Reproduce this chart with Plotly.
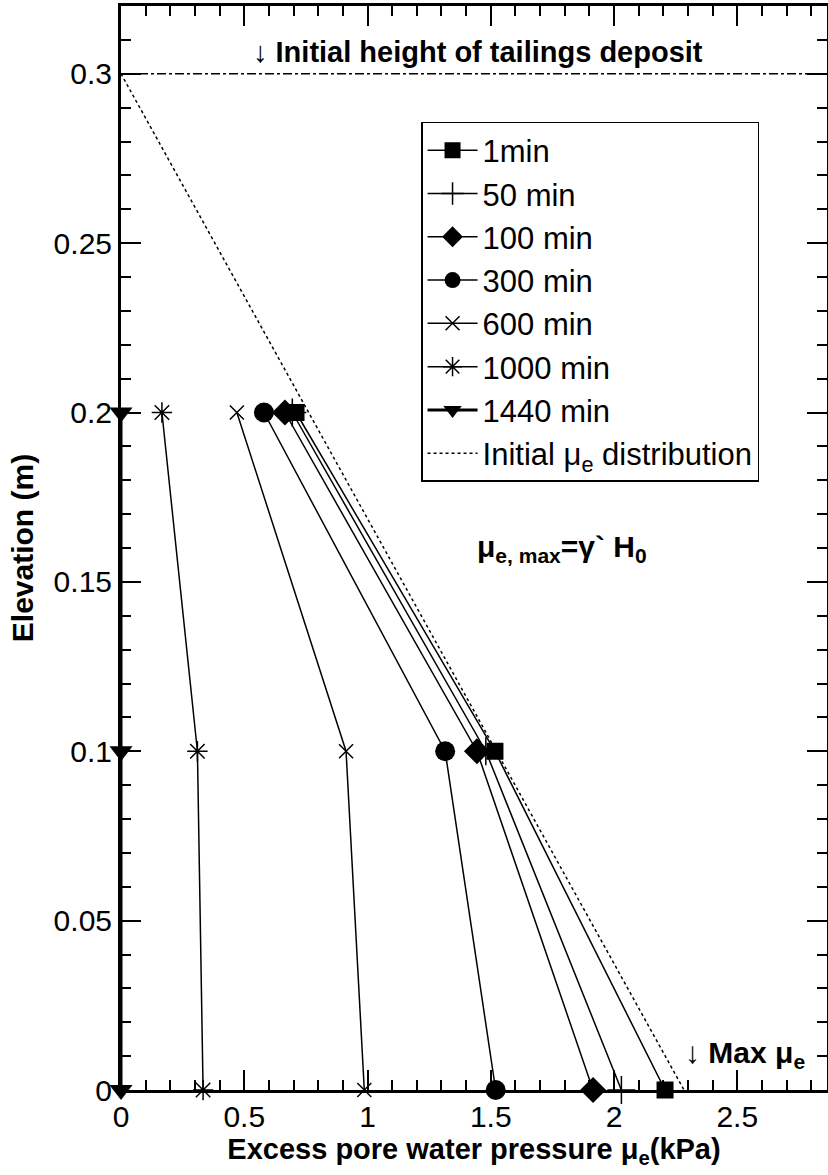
import plotly.graph_objects as go

# ---- data ----
elevation = [0.2, 0.1, 0.0]
series_names = ["1min", "50 min", "100 min", "300 min", "600 min", "1000 min", "1440 min"]
pwp_1min = [0.71, 1.517, 2.207]
pwp_50min = [0.695, 1.48, 2.03]
pwp_100min = [0.665, 1.444, 1.915]
pwp_300min = [0.58, 1.315, 1.52]
pwp_600min = [0.47, 0.913, 0.987]
pwp_1000min = [0.166, 0.31, 0.333]
pwp_1440min = [0.0, 0.0, 0.0]

initial_x = [0.0, 2.284]
initial_y = [0.3, 0.0]
initial_height = 0.3

x_tickvals = [0, 0.5, 1, 1.5, 2, 2.5]
x_ticktext = ["0", "0.5", "1", "1.5", "2", "2.5"]
y_tickvals = [0, 0.05, 0.1, 0.15, 0.2, 0.25, 0.3]
y_ticktext = ["0", "0.05", "0.1", "0.15", "0.2", "0.25", "0.3"]

FONT = "Liberation Sans, Arial, Helvetica, sans-serif"

series = [
    (series_names[0], pwp_1min, dict(symbol="square", size=17, color="black")),
    (series_names[1], pwp_50min, dict(symbol="cross-thin", size=20, color="black",
                                      line=dict(width=1.5, color="black"))),
    (series_names[2], pwp_100min, dict(symbol="diamond", size=20, color="black")),
    (series_names[3], pwp_300min, dict(symbol="circle", size=20, color="black")),
    (series_names[4], pwp_600min, dict(symbol="x-thin", size=14, color="black",
                                       line=dict(width=1.5, color="black"))),
    (series_names[5], pwp_1000min, dict(symbol="asterisk", size=17, color="black",
                                        line=dict(width=1.5, color="black"))),
    (series_names[6], pwp_1440min, dict(symbol="triangle-down", size=20, color="black")),
]

fig = go.Figure()
for i, (name, xs, mk) in enumerate(series):
    fig.add_trace(go.Scatter(
        x=xs, y=elevation, name=name, mode="lines+markers",
        line=dict(color="black", width=3 if name == "1440 min" else 1.5),
        marker=mk, cliponaxis=False, legendgroup=name,
    ))

fig.add_trace(go.Scatter(
    x=initial_x, y=initial_y, name="Initial μ<sub>e</sub> distribution",
    mode="lines", line=dict(color="black", width=1.5, dash="dot"),
    legendgroup="init",
))

fig.add_shape(type="line", xref="paper", yref="y", x0=0, x1=1,
              y0=initial_height, y1=initial_height,
              line=dict(color="black", width=1.5, dash="dashdot"))

fig.add_annotation(x=1.45, y=0.3065, xref="x", yref="y", showarrow=False,
                   text="<b>↓ Initial height of tailings deposit</b>",
                   font=dict(family=FONT, size=29, color="black"))
fig.add_annotation(x=1.79, y=0.160, xref="x", yref="y", showarrow=False,
                   text="<b>μ<sub>e, max</sub>=γ` H<sub>0</sub></b>",
                   font=dict(family=FONT, size=30, color="black"))
fig.add_annotation(x=2.53, y=0.0105, xref="x", yref="y", showarrow=False,
                   text="<b>↓ Max μ<sub>e</sub></b>",
                   font=dict(family=FONT, size=30, color="black"))

axis_common = dict(
    showgrid=False, zeroline=False, showline=True, linecolor="black", linewidth=3,
    mirror="ticks", ticks="inside", ticklen=20, tickwidth=2, tickcolor="black",
    tickfont=dict(family=FONT, size=30, color="black"), automargin=False,
)

fig.update_xaxes(
    range=[0, 2.864], tickvals=x_tickvals, ticktext=x_ticktext,
    minor=dict(dtick=0.1, ticks="inside", ticklen=10, tickwidth=2, tickcolor="black"),
    ticklabelstandoff=-2,
    title=dict(text="<b>Excess pore water pressure μ<sub>e</sub>(kPa)</b>",
               font=dict(family=FONT, size=29, color="black"), standoff=4),
    **axis_common,
)
fig.update_yaxes(
    range=[0, 0.32], tickvals=y_tickvals, ticktext=y_ticktext,
    minor=dict(dtick=0.01, ticks="inside", ticklen=10, tickwidth=2, tickcolor="black"),
    title=dict(text="<b>Elevation (m)</b>",
               font=dict(family=FONT, size=30, color="black"), standoff=12),
    **axis_common,
)

fig.update_layout(
    width=828, height=1175,
    margin=dict(l=121, r=1, t=6, b=85),
    paper_bgcolor="white", plot_bgcolor="white",
    font=dict(family=FONT, color="black"),
    showlegend=True,
    legend=dict(
        x=0.425, y=0.893, xanchor="left", yanchor="top",
        bgcolor="white", bordercolor="black", borderwidth=1.5,
        font=dict(family=FONT, size=31, color="black"),
        itemwidth=50, tracegroupgap=0,
    ),
)

fig.write_html("out.html", config={"displayModeBar": False},
               post_script="document.body.style.margin='0';document.body.style.overflow='hidden';")
